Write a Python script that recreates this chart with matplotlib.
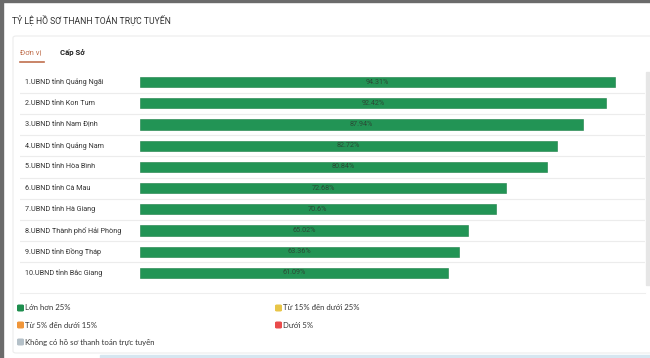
import matplotlib.pyplot as plt
from matplotlib.patches import FancyBboxPatch, Rectangle
import matplotlib.transforms as mtransforms

plt.rcParams['font.family'] = ['Roboto', 'DejaVu Sans']

units = ['1.UBND tỉnh Quảng Ngãi', '2.UBND tỉnh Kon Tum', '3.UBND tỉnh Nam Định',
         '4.UBND tỉnh Quảng Nam', '5.UBND tỉnh Hòa Bình', '6.UBND tỉnh Cà Mau',
         '7.UBND tỉnh Hà Giang', '8.UBND Thành phố Hải Phòng', '9.UBND tỉnh Đồng Tháp',
         '10.UBND tỉnh Bắc Giang']
rates = [94.31, 92.42, 87.94, 82.72, 80.84, 72.68, 70.6, 65.02, 63.36, 61.09]
rate_labels = ['94.31%', '92.42%', '87.94%', '82.72%', '80.84%', '72.68%', '70.6%',
               '65.02%', '63.36%', '61.09%']

legend_names = ['Lớn hơn 25%', 'Từ 15% đến dưới 25%', 'Từ 5% đến dưới 15%',
                'Dưới 5%', 'Không có hồ sơ thanh toán trực tuyến']
legend_colors = ['#1e8e4e', '#e8c547', '#f0963a', '#e94b4b', '#b4c0c8']

W, H = 650, 358
fig = plt.figure(figsize=(6.5, 3.58), dpi=100)
fig.patch.set_facecolor('white')

def fx(px):
    return px / W

def fy(py):
    return 1 - py / H

# page frame
fig.patches.append(Rectangle((0, 0), fx(3), 1, transform=fig.transFigure,
                             color='#6b6b6b', zorder=0))
fig.patches.append(Rectangle((0, fy(2)), 1, fy(0) - fy(2), transform=fig.transFigure,
                             color='#6b6b6b', zorder=0))
fig.patches.append(Rectangle((fx(100), 0), fx(550), fy(355), transform=fig.transFigure,
                             color='#d6e6f0', zorder=0))
# card
fig.patches.append(FancyBboxPatch((fx(13), fy(353)), fx(640), fy(36) - fy(353),
                                  boxstyle='round,pad=0,rounding_size=0.005',
                                  transform=fig.transFigure, facecolor='white',
                                  edgecolor='#ececec', lw=0.8, zorder=1))
# scrollbar
fig.patches.append(Rectangle((fx(646), fy(285)), fx(4), fy(72) - fy(285),
                             transform=fig.transFigure, color='#e6e6e6', zorder=2))

fig.text(fx(12), fy(20), 'TỶ LỆ HỒ SƠ THANH TOÁN TRỰC TUYẾN', fontsize=6.2,
         color='#333333', va='center', ha='left')
fig.text(fx(20), fy(52), 'Đơn vị', fontsize=5.6, color='#c0704e', va='center')
fig.lines.append(plt.Line2D([fx(20), fx(44)], [fy(62), fy(62)], transform=fig.transFigure,
                            color='#c0704e', lw=1.2))
fig.text(fx(60), fy(52), 'Cấp Sở', fontsize=5.6, color='#222222', va='center',
         fontweight='bold')
fig.lines.append(plt.Line2D([fx(20), fx(645)], [fy(293), fy(293)],
                            transform=fig.transFigure, color='#eeeeee', lw=0.8))

# bar axes: 0 at x=140px, 100 at x=644px; axes spans 20..645px
x0, x100 = 140, 644
left_px, right_px = 20, 645
scale = (x100 - x0) / 100
ax = fig.add_axes([fx(left_px), fy(283.6), fx(right_px - left_px), fy(71.4) - fy(283.6)])
ax.set_zorder(5)
ax.patch.set_visible(False)
ax.set_xlim((left_px - x0) / scale, (right_px - x0) / scale)
ax.set_ylim(len(units) - 0.5, -0.5)
ax.axis('off')

ypos = list(range(len(units)))
ax.barh(ypos, rates, height=0.48, color='#229455', edgecolor='#1a7f46', lw=0.4)
for i in range(len(units)):
    ax.text(rates[i] / 2, i, rate_labels[i], ha='center', va='center', fontsize=5.2,
            color='#2b4a36')
    ax.text(0.008, i, units[i], transform=mtransforms.blended_transform_factory(
        ax.transAxes, ax.transData), ha='left', va='center', fontsize=5.2, color='#333333')
    if i < len(units) - 1:
        ax.axhline(i + 0.5, color='#ececec', lw=0.8)

# legend
leg_pos = [(17, 308), (275, 308), (17, 325), (275, 325), (17, 342)]
for (px, py), name, col in zip(leg_pos, legend_names, legend_colors):
    fig.patches.append(FancyBboxPatch((fx(px), fy(py + 3.5)), fx(7), fy(py - 3.5) - fy(py + 3.5),
                                      boxstyle='round,pad=0,rounding_size=0.003',
                                      transform=fig.transFigure, facecolor=col,
                                      edgecolor='none', zorder=3))
    fig.text(fx(px + 8), fy(py), name, fontsize=5.6, color='#333333', va='center',
             family=['Lato', 'DejaVu Sans'])

fig.savefig('out.png', dpi=100)
